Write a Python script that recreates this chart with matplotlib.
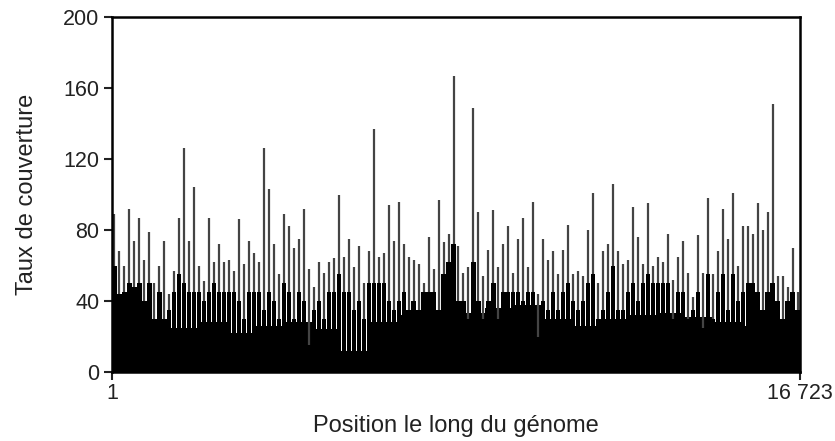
import numpy as np
import matplotlib
matplotlib.use("Agg")
import matplotlib.pyplot as plt

# ---- data (coverage along the genome) ----
genome_start = 1
genome_end = 16723

# spike tops (coverage maximum per window), left to right
cov_peak = [
    89, 68, 60, 92, 74, 87, 63, 79, 50, 60, 74, 44, 57, 87, 126, 74, 104, 60, 51, 87, 62, 72, 62,
    63, 57, 86, 61, 74, 67, 62, 126, 103, 72, 55, 89, 82, 70, 75, 92, 58, 48, 62, 56, 62, 64, 100,
    65, 75, 59, 71, 50, 68, 137, 65, 67, 94, 74, 96, 72, 65, 63, 61, 50, 76, 58, 97, 73, 78, 167,
    71, 56, 59, 149, 90, 54, 69, 91, 59, 72, 82, 56, 75, 87, 59, 96, 44, 75, 63, 68, 55, 69, 83,
    55, 57, 54, 80, 101, 50, 68, 72, 106, 68, 61, 63, 93, 76, 61, 95, 60, 65, 62, 78, 52, 65, 74,
    56, 42, 77, 56, 98, 55, 68, 92, 75, 101, 60, 82, 82, 78, 95, 80, 90, 151, 54, 54, 48, 70, 45,
]

# solid black body of each window
cov_body = [
    60, 44, 45, 50, 48, 50, 40, 50, 30, 45, 30, 35, 45, 55, 50, 45, 45, 45, 40, 45, 50, 45, 45,
    45, 45, 40, 30, 45, 45, 45, 35, 45, 40, 30, 50, 45, 30, 45, 40, 15, 35, 40, 30, 45, 45, 55,
    45, 45, 35, 40, 30, 50, 50, 50, 50, 40, 35, 40, 45, 35, 40, 35, 45, 45, 45, 35, 55, 62, 72,
    40, 40, 30, 62, 40, 30, 40, 50, 30, 45, 45, 45, 45, 40, 45, 45, 20, 40, 35, 45, 35, 45, 50,
    40, 35, 40, 50, 55, 30, 35, 45, 60, 35, 35, 45, 50, 40, 50, 55, 50, 50, 50, 50, 30, 45, 45,
    30, 35, 45, 25, 55, 30, 45, 55, 35, 55, 40, 45, 50, 50, 45, 35, 45, 50, 40, 30, 40, 45, 35,
]

# lowest level of the solid black mass
cov_floor = [27, 30, 25, 28, 22, 26, 28, 24, 12, 28, 32, 34,
             33, 36, 38, 30, 26, 30, 32, 33, 31, 28, 26, 28]

y_ticks = [0, 40, 80, 120, 160, 200]
x_tick_labels = ["1", "16 723"]
y_label = "Taux de couverture"
x_label = "Position le long du génome"

# ---- figure ----
plt.rcParams['font.family'] = ['Liberation Sans', 'DejaVu Sans']

fig = plt.figure(figsize=(8.35, 4.41), dpi=100)
ax = fig.add_axes([112 / 835, 1 - 372 / 441, 688 / 835, 355 / 441])

n = len(cov_peak)
step = (genome_end - genome_start) / n
xs = genome_start + (np.arange(n) + 0.5) * step

nf = len(cov_floor)
fstep = (genome_end - genome_start) / nf
xf = genome_start + np.arange(nf + 1) * fstep
ax.fill_between(xf, np.append(cov_floor, cov_floor[-1]), step='post', color='black', lw=0)

ax.bar(xs, cov_body, width=step * 0.86, color='black', lw=0)
ax.vlines(xs, cov_body, cov_peak, colors='#444444', lw=1.6)

ax.set_xlim(genome_start, genome_end)
ax.set_ylim(0, 200)
ax.set_yticks(y_ticks)
ax.set_xticks([genome_start, genome_end])
ax.set_xticklabels(x_tick_labels)

for s in ax.spines.values():
    s.set_linewidth(1.8)
    s.set_color('black')

ax.tick_params(axis='both', direction='out', length=6, width=1.5,
               labelsize=15.5, colors='#222222', pad=2)
ax.tick_params(axis='y', pad=3)

ax.set_ylabel(y_label, fontsize=17, color='#222222', labelpad=18)
ax.set_xlabel(x_label, fontsize=17, color='#222222', labelpad=8)

fig.savefig("out.png", dpi=100)
